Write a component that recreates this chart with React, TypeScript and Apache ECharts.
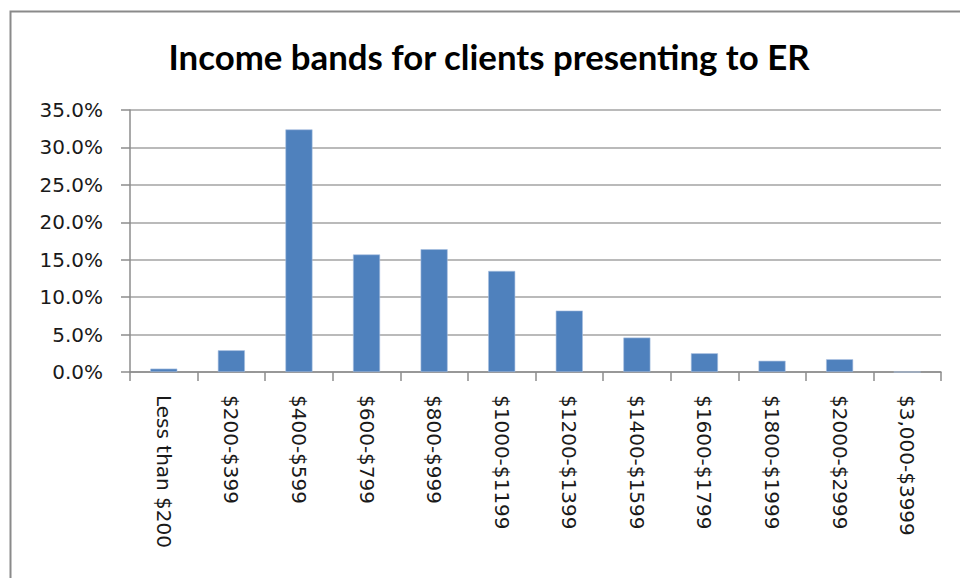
import React, { useEffect, useRef } from "react";
import * as echarts from "echarts";

const titleText = "Income bands for clients presenting to ER";
const categories = [
  "Less than $200",
  "$200-$399",
  "$400-$599",
  "$600-$799",
  "$800-$999",
  "$1000-$1199",
  "$1200-$1399",
  "$1400-$1599",
  "$1600-$1799",
  "$1800-$1999",
  "$2000-$2999",
  "$3,000-$3999",
];
const percentages = [0.45, 2.9, 32.4, 15.7, 16.4, 13.5, 8.2, 4.6, 2.5, 1.5, 1.7, 0];
const yMin = 0;
const yMax = 35;
const yStep = 5;

export default function App() {
  const ref = useRef<HTMLDivElement>(null);
  useEffect(() => {
    if (!ref.current) return;
    const chart = echarts.init(ref.current, undefined, { renderer: "svg" });
    chart.setOption({
      animation: false,
      backgroundColor: "#ffffff",
      graphic: [
        {
          type: "rect",
          left: 8,
          top: 9,
          shape: { x: 0, y: 0, width: 1000, height: 1000 },
          style: { fill: "none", stroke: "#8a8a8a", lineWidth: 2 },
          silent: true,
        },
      ],
      title: {
        text: titleText,
        left: 484,
        top: 34,
        textAlign: "center",
        textStyle: {
          fontFamily: "Lato",
          fontWeight: "bold",
          fontSize: 34.8,
          color: "#000000",
        },
      },
      grid: { left: 130, right: 19, top: 110, bottom: 206, containLabel: false },
      xAxis: {
        type: "category",
        data: categories,
        boundaryGap: true,
        axisLine: { show: true, lineStyle: { color: "#8c8c8c", width: 1.5 } },
        axisTick: { show: true, alignWithLabel: false, length: 9, lineStyle: { color: "#8c8c8c", width: 1.5 } },
        axisLabel: {
          rotate: -90,
          margin: 23,
          interval: 0,
          fontFamily: "DejaVu Sans",
          fontSize: 20,
          color: "#1a1a1a",
        },
        splitLine: { show: false },
      },
      yAxis: {
        type: "value",
        min: yMin,
        max: yMax,
        interval: yStep,
        axisLine: { show: true, lineStyle: { color: "#8c8c8c", width: 1.5 } },
        axisTick: { show: true, length: 9, lineStyle: { color: "#8c8c8c", width: 1.5 } },
        axisLabel: {
          margin: 27,
          fontFamily: "DejaVu Sans",
          fontSize: 20,
          color: "#1a1a1a",
          formatter: (v: number) => v.toFixed(1) + "%",
        },
        splitLine: { show: true, lineStyle: { color: "#a3a3a3", width: 1.5 } },
      },
      series: [
        {
          type: "bar",
          data: percentages,
          barWidth: "40%",
          itemStyle: { color: "#4f81bd", borderColor: "#a8c0e0", borderWidth: 0.6 },
        },
      ],
    });
    return () => chart.dispose();
  }, []);
  return (
    <div
      ref={ref}
      style={{ position: "fixed", left: 0, top: 0, width: 960, height: 578 }}
    />
  );
}
